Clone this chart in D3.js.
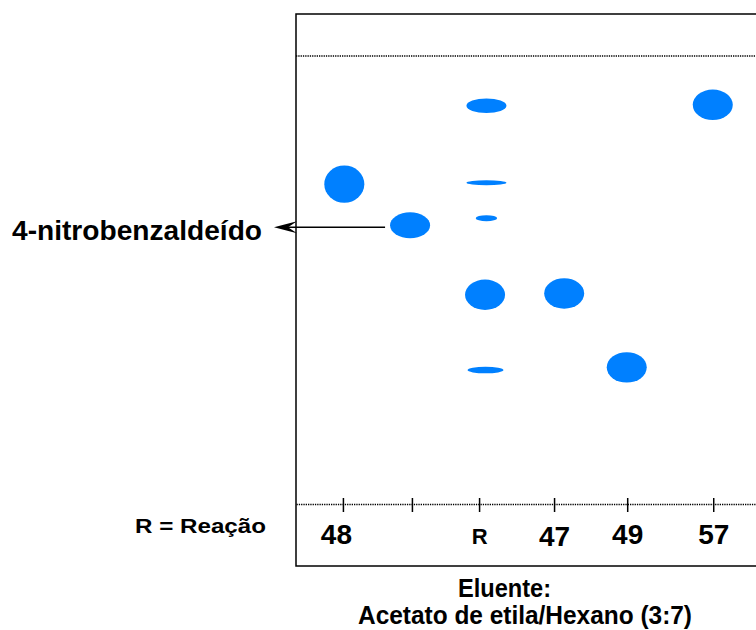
<!DOCTYPE html>
<html>
<head>
<meta charset="utf-8">
<script src="https://cdn.jsdelivr.net/npm/d3@7"></script>
<style>
  body { margin: 0; background: #fff; }
  #plate { width: 756px; height: 630px; }
  text { font-family: 'Liberation Sans', Arial, sans-serif; font-weight: bold; fill: #000; }
</style>
</head>
<body>
<div id="plate"></div>
<script>
// lanes on the origin line (position across the plate, % of width)
const lanes = ['48', '', 'R', '47', '49', '57']
const lanePos = [10.2, 25.2, 39.8, 56.1, 72.0, 90.7]

// spots after elution: lane, position across plate, Rf, extent (width in %, height in Rf)
const spotLane = ['48', '', 'R', 'R', 'R', 'R', 'R', '47', '49', '57']
const spotX = [10.5, 24.8, 41.4, 41.4, 41.4, 41.1, 41.2, 58.3, 71.9, 90.6]
const spotRf = [0.714, 0.622, 0.889, 0.717, 0.638, 0.467, 0.299, 0.47, 0.305, 0.891]
const spotWidth = [8.7, 8.7, 8.7, 8.7, 4.65, 8.7, 7.8, 8.7, 8.7, 8.7]
const spotHeight = [0.0835, 0.058, 0.0326, 0.011, 0.0134, 0.068, 0.0147, 0.068, 0.068, 0.068]

const markedSpot = 1
const markedName = '4-nitrobenzaldeído'
const legendText = 'R = Reação'
const eluentTitle = ['Eluente:', 'Acetato de etila/Hexano (3:7)']

class TLCPlate {
  constructor(id) {
    this.id = id
    this.width = 756
    this.height = 630
    this.plate = { left: 296, top: 14, right: 780, bottom: 566 }
    this.x = d3.scaleLinear().domain([0, 100]).range([296, 756])
    this.y = d3.scaleLinear().domain([0, 1]).range([504, 56])
    this.svg = null

    this.render()
  }

  render() {
    this.svg = d3
      .select(this.id)
      .append('svg')
      .attr('width', this.width)
      .attr('height', this.height)
      .attr('viewBox', [0, 0, this.width, this.height])

    this.svg
      .append('rect')
      .attr('x', this.plate.left)
      .attr('y', this.plate.top)
      .attr('width', this.plate.right - this.plate.left)
      .attr('height', this.plate.bottom - this.plate.top)
      .attr('fill', 'none')
      .attr('stroke', '#000')
      .attr('stroke-width', 1.5)

    // solvent front
    this.svg
      .append('line')
      .attr('x1', this.x(0))
      .attr('x2', this.x(100))
      .attr('y1', this.y(1))
      .attr('y2', this.y(1))
      .attr('stroke', '#000')
      .attr('stroke-width', 1.3)
      .attr('stroke-dasharray', '1.3,1')

    this.svg.append('g').call(this.originAxis.bind(this))
    this.addSpots()
    this.addLabels()
  }

  originAxis(g) {
    g.attr('transform', `translate(0, ${this.y(0)})`)
      .call(
        d3
          .axisBottom(this.x)
          .tickValues(lanePos)
          .tickFormat((d, i) => lanes[i])
          .tickSizeInner(7)
          .tickSizeOuter(0)
      )
    g.select('.domain')
      .attr('stroke', '#000')
      .attr('stroke-width', 1.3)
      .attr('stroke-dasharray', '1.3,1')
    g.selectAll('.tick line')
      .attr('y1', -6)
      .attr('y2', 8)
      .attr('stroke-width', 1.5)
    g.selectAll('.tick text')
      .attr('y', 40)
      .attr('dy', (d, i) => (lanes[i] === '47' ? 2 : 0))
      .attr('dx', (d, i) => (i === 0 ? -7 : 0))
      .attr('font-family', null)
      .style('font-size', (d, i) => (lanes[i] === 'R' ? '22px' : '28px'))
  }

  addSpots() {
    const x = this.x
    const y = this.y
    this.svg
      .append('g')
      .selectAll('ellipse')
      .data(spotX.map((d, i) => i))
      .join('ellipse')
      .attr('cx', (i) => x(spotX[i]))
      .attr('cy', (i) => y(spotRf[i]))
      .attr('rx', (i) => (x(spotWidth[i]) - x(0)) / 2)
      .attr('ry', (i) => (y(0) - y(spotHeight[i])) / 2)
      .attr('fill', '#0080ff')
  }

  addLabels() {
    const i = markedSpot
    const cx = this.x(spotX[i])
    const rx = (this.x(spotWidth[i]) - this.x(0)) / 2
    const ay = this.y(spotRf[i]) + 2
    const tip = 274

    this.svg
      .append('line')
      .attr('x1', cx - rx - 5)
      .attr('x2', tip + 10)
      .attr('y1', ay)
      .attr('y2', ay)
      .attr('stroke', '#000')
      .attr('stroke-width', 1.5)
    this.svg
      .append('path')
      .attr('d', `M${tip},${ay} L${tip + 23},${ay - 6} L${tip + 14},${ay} L${tip + 23},${ay + 6} Z`)
      .attr('fill', '#000')

    this.svg
      .append('text')
      .attr('x', 12)
      .attr('y', 240)
      .attr('textLength', 250)
      .attr('lengthAdjust', 'spacingAndGlyphs')
      .style('font-size', '27.5px')
      .text(markedName)

    this.svg
      .append('text')
      .attr('x', 135)
      .attr('y', 533)
      .attr('textLength', 131)
      .attr('lengthAdjust', 'spacingAndGlyphs')
      .style('font-size', '21px')
      .text(legendText)

    this.svg
      .append('text')
      .attr('x', 458)
      .attr('y', 597)
      .attr('textLength', 93)
      .attr('lengthAdjust', 'spacingAndGlyphs')
      .style('font-size', '25px')
      .text(eluentTitle[0])
    this.svg
      .append('text')
      .attr('x', 358)
      .attr('y', 624)
      .attr('textLength', 334)
      .attr('lengthAdjust', 'spacingAndGlyphs')
      .style('font-size', '25.5px')
      .text(eluentTitle[1])
  }
}

const tlc = new TLCPlate('#plate')
</script>
</body>
</html>
